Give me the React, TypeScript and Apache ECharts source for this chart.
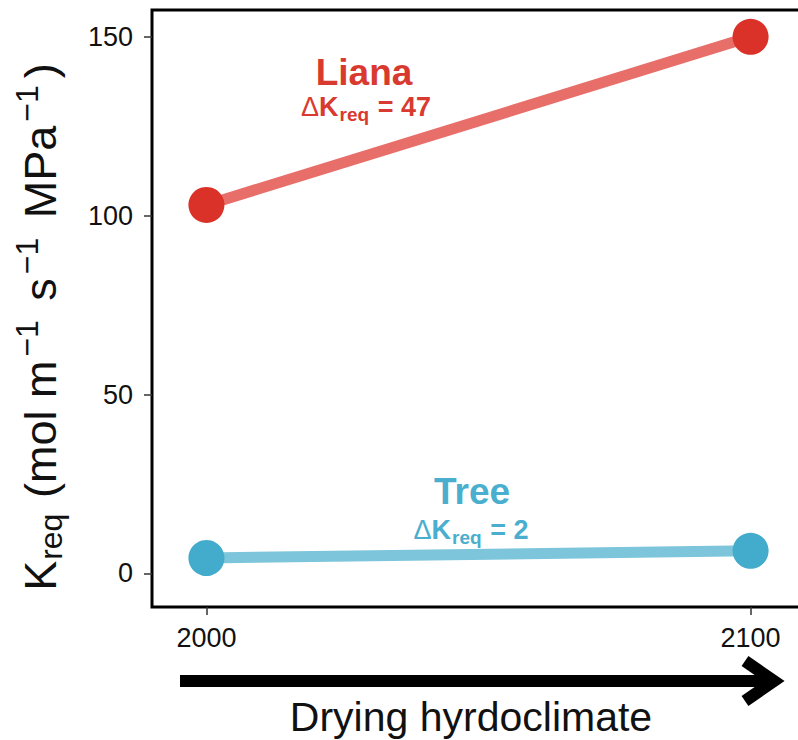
import React, { useEffect, useRef } from "react";
import * as echarts from "echarts";

// Scenario years on the x axis
const years = [2000, 2100];
// Required conductance K_req (mol m^-1 s^-1 MPa^-1) per growth form
const liana = [103, 150];
const tree = [4.3, 6.3];
// Tick labels
const xTicks = [2000, 2100];
const yTicks = [0, 50, 100, 150];

const FONT = "'Liberation Sans', Arial, Helvetica, sans-serif";
const RED_DOT = "#DA3229";
const RED_LINE = "#E86E69";
const RED_TEXT = "#D93A30";
const BLUE_DOT = "#43ABCB";
const BLUE_LINE = "#7CC5DA";
const BLUE_TEXT = "#4AAECE";

const pairs = (ys: number[]) => years.map((x, i) => [x, ys[i]]);
const delta = (ys: number[]) => Math.round(ys[ys.length - 1] - ys[0]);

function deltaLabel(x: number, y: number, value: number, color: string) {
  return {
    type: "text",
    x,
    y,
    style: {
      text: `{d|Δ}{k|K}{s|req}{k| = ${value}}`,
      align: "center",
      verticalAlign: "middle",
      fill: color,
      font: `bold 27px ${FONT}`,
      rich: {
        d: { fontSize: 27, lineHeight: 26, fontWeight: "normal", fontFamily: FONT, fill: color },
        k: { fontSize: 27, lineHeight: 26, fontWeight: "bold", fontFamily: FONT, fill: color },
        s: {
          fontSize: 19,
          lineHeight: 26,
          fontWeight: "bold",
          fontFamily: FONT,
          fill: color,
          padding: [14, 1, 0, 1],
        },
      },
    },
  };
}

function nameLabel(x: number, y: number, text: string, color: string) {
  return {
    type: "text",
    x,
    y,
    style: {
      text,
      align: "center",
      verticalAlign: "middle",
      fill: color,
      font: `bold 37px ${FONT}`,
      lineHeight: 30,
    },
  };
}

export default function App() {
  const ref = useRef<HTMLDivElement>(null);

  useEffect(() => {
    if (!ref.current) return;
    const chart = echarts.init(ref.current, undefined, { renderer: "svg" });

    const yTitleRich = {
      m: { fontSize: 45, fontFamily: FONT, fill: "#111" },
      sub: { fontSize: 32, fontFamily: FONT, fill: "#111", padding: [22, 3, 0, 1] },
      sup: { fontSize: 32, fontFamily: FONT, fill: "#111", padding: [0, 7, 26, 4] },
    };

    chart.setOption({
      animation: false,
      backgroundColor: "#fff",
      grid: {
        left: 152,
        top: 10,
        width: 653,
        height: 597,
        outerBoundsMode: "none",
        show: true,
        borderColor: "#000",
        borderWidth: 3,
        backgroundColor: "transparent",
      },
      xAxis: {
        type: "value",
        min: 1990,
        max: 2110,
        splitLine: { show: false },
        axisLine: { show: false, onZero: false },
        axisTick: {
          show: true,
          length: 8,
          customValues: xTicks,
          lineStyle: { color: "#333", width: 1.5 },
        },
        axisLabel: {
          customValues: xTicks,
          formatter: (v: number) => String(v),
          margin: 17,
          fontSize: 27,
          fontFamily: FONT,
          color: "#111",
        },
      },
      yAxis: {
        type: "value",
        min: -9.4,
        max: 157.5,
        splitLine: { show: false },
        axisLine: { show: false, onZero: false },
        axisTick: {
          show: true,
          length: 8,
          customValues: yTicks,
          lineStyle: { color: "#333", width: 1.5 },
        },
        axisLabel: {
          customValues: yTicks,
          margin: 19,
          fontSize: 27,
          fontFamily: FONT,
          color: "#111",
        },
      },
      series: [
        {
          name: "Liana",
          type: "line",
          data: pairs(liana),
          symbol: "circle",
          symbolSize: 36,
          lineStyle: { color: RED_LINE, width: 11 },
          itemStyle: { color: RED_DOT },
          z: 3,
        },
        {
          name: "Tree",
          type: "line",
          data: pairs(tree),
          symbol: "circle",
          symbolSize: 36,
          lineStyle: { color: BLUE_LINE, width: 11 },
          itemStyle: { color: BLUE_DOT },
          z: 3,
        },
      ],
      graphic: [
        nameLabel(364, 72.5, "Liana", RED_TEXT),
        deltaLabel(366, 107, delta(liana), RED_TEXT),
        nameLabel(472, 491, "Tree", BLUE_TEXT),
        deltaLabel(471, 530, delta(tree), BLUE_TEXT),
        {
          type: "text",
          x: 40,
          y: 327,
          rotation: Math.PI / 2,
          style: {
            text:
              "{m|K}{sub|req}{m| (mol m}{sup|−1}{m| s}{sup|−1}{m| MPa}{sup|−1}{m|)}",
            align: "center",
            verticalAlign: "middle",
            fill: "#111",
            font: `45px ${FONT}`,
            rich: yTitleRich,
          },
        },
        {
          type: "text",
          x: 471,
          y: 717,
          style: {
            text: "Drying hyrdoclimate",
            align: "center",
            verticalAlign: "middle",
            fill: "#111",
            font: `41px ${FONT}`,
          },
        },
        {
          type: "line",
          shape: { x1: 180, y1: 681, x2: 772, y2: 681 },
          style: { stroke: "#000", lineWidth: 12, lineCap: "butt" },
        },
        {
          type: "polyline",
          shape: { points: [[745, 661], [774, 681], [745, 701]] },
          style: { stroke: "#000", lineWidth: 12, lineJoin: "miter", fill: "none" },
        },
      ],
    });

    return () => chart.dispose();
  }, []);

  return (
    <div
      ref={ref}
      style={{ position: "fixed", left: 0, top: 0, width: 798, height: 740 }}
    />
  );
}
